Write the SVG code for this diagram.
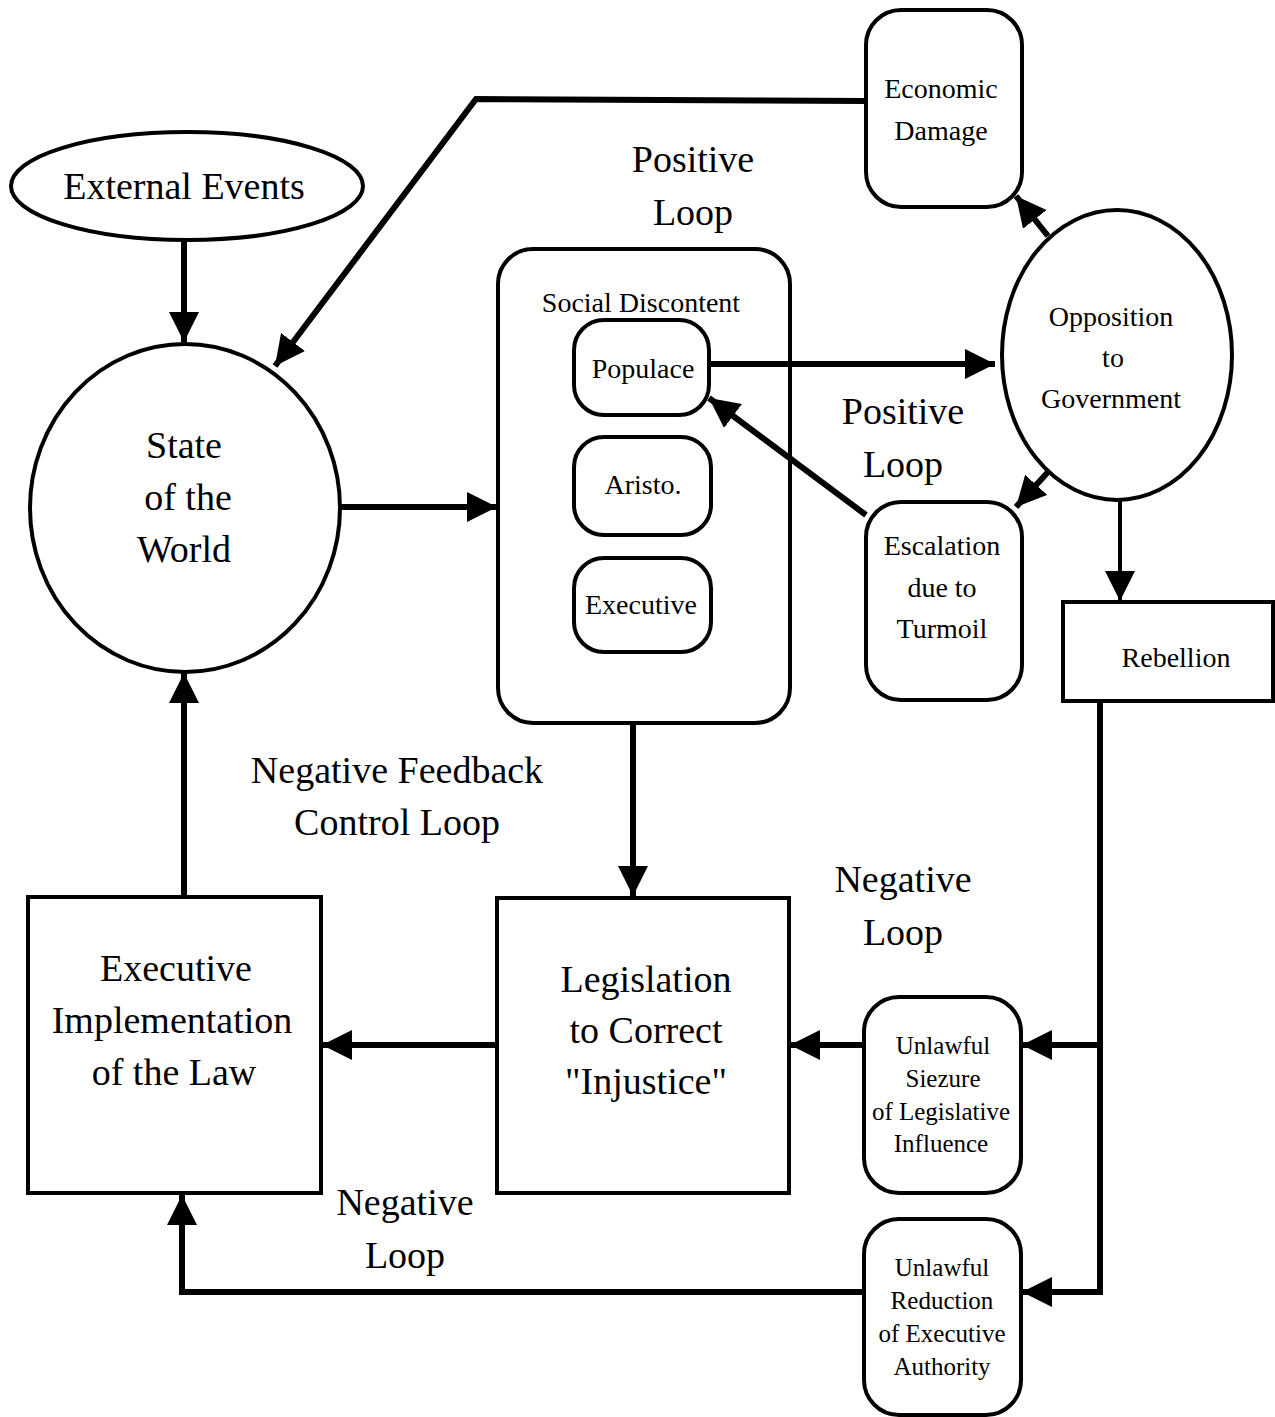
<svg xmlns="http://www.w3.org/2000/svg" width="1275" height="1417" viewBox="0 0 1275 1417">
<style>
.n{fill:#fff;stroke:#000;stroke-width:4}
.t{font-family:"Liberation Serif","Times New Roman",serif;fill:#000;text-anchor:middle}
.big{font-size:38px}
.sm{font-size:28px}
.c{fill:none;stroke:#000;stroke-width:6}
.thin{fill:none;stroke:#000;stroke-width:4}
</style>
<defs>
<marker id="ah" markerUnits="userSpaceOnUse" markerWidth="32" markerHeight="30" refX="30" refY="15" orient="auto">
<path d="M0,0 L30,15 L0,30 Z" fill="#000"/>
</marker>
</defs>
<rect width="1275" height="1417" fill="#fff"/>
<g id="external-events">
<ellipse class="n" cx="187" cy="186" rx="176" ry="54"/>
<text class="t big" x="184" y="199">External Events</text>
</g>
<g id="state-of-the-world">
<ellipse class="n" cx="185" cy="508" rx="155" ry="164"/>
<text class="t big" x="184" y="458">State</text>
<text class="t big" x="188" y="510">of the</text>
<text class="t big" x="184" y="562">World</text>
</g>
<g id="economic-damage">
<rect class="n" x="866" y="10" width="156" height="197" rx="35"/>
<text class="t sm" x="941" y="98">Economic</text>
<text class="t sm" x="941" y="140">Damage</text>
</g>
<g id="social-discontent">
<rect class="n" x="498" y="249" width="292" height="474" rx="35"/>
<text class="t sm" x="641" y="312">Social Discontent</text>
</g>
<g id="populace">
<rect class="n" x="574" y="320" width="135" height="95" rx="30"/>
<text class="t sm" x="643" y="378">Populace</text>
</g>
<g id="aristo">
<rect class="n" x="574" y="437" width="137" height="98" rx="30"/>
<text class="t sm" x="643" y="494">Aristo.</text>
</g>
<g id="executive">
<rect class="n" x="574" y="558" width="137" height="94" rx="30"/>
<text class="t sm" x="641" y="614">Executive</text>
</g>
<g id="opposition">
<ellipse class="n" cx="1117" cy="355" rx="115" ry="145"/>
<text class="t sm" x="1111" y="326">Opposition</text>
<text class="t sm" x="1113" y="367">to</text>
<text class="t sm" x="1111" y="408">Government</text>
</g>
<g id="escalation">
<rect class="n" x="866" y="502" width="156" height="198" rx="35"/>
<text class="t sm" x="942" y="555">Escalation</text>
<text class="t sm" x="942" y="597">due to</text>
<text class="t sm" x="942" y="638">Turmoil</text>
</g>
<g id="rebellion">
<rect class="n" x="1063" y="602" width="210" height="99"/>
<text class="t sm" x="1176" y="667">Rebellion</text>
</g>
<g id="legislation">
<rect class="n" x="497" y="898" width="292" height="295"/>
<text class="t big" x="646" y="992">Legislation</text>
<text class="t big" x="646" y="1043">to Correct</text>
<text class="t big" x="646" y="1094">"Injustice"</text>
</g>
<g id="executive-implementation">
<rect class="n" x="28" y="897" width="293" height="296"/>
<text class="t big" x="176" y="981">Executive</text>
<text class="t big" x="172" y="1033">Implementation</text>
<text class="t big" x="174" y="1085">of the Law</text>
</g>
<g id="unlawful-siezure">
<rect class="n" x="864" y="997" width="157" height="196" rx="35"/>
<text class="t" font-size="25" x="943" y="1054">Unlawful</text>
<text class="t" font-size="25" x="943" y="1087">Siezure</text>
<text class="t" font-size="25" x="941" y="1120">of Legislative</text>
<text class="t" font-size="25" x="941" y="1152">Influence</text>
</g>
<g id="unlawful-reduction">
<rect class="n" x="864" y="1219" width="157" height="196" rx="35"/>
<text class="t" font-size="25" x="942" y="1276">Unlawful</text>
<text class="t" font-size="25" x="942" y="1309">Reduction</text>
<text class="t" font-size="25" x="942" y="1342">of Executive</text>
<text class="t" font-size="25" x="942" y="1375">Authority</text>
</g>
<g id="connectors">
<line class="c" x1="184" y1="240" x2="184" y2="342" marker-end="url(#ah)"/>
<polyline class="c" stroke-width="7" points="866,101 476,99 275,366" marker-end="url(#ah)"/>
<line class="c" x1="340" y1="507" x2="497" y2="507" marker-end="url(#ah)"/>
<line class="c" x1="709" y1="364" x2="995" y2="364" marker-end="url(#ah)"/>
<line class="c" x1="1048" y1="236" x2="1016" y2="196" marker-end="url(#ah)"/>
<line class="c" x1="1048" y1="472" x2="1016" y2="507" marker-end="url(#ah)"/>
<line class="thin" x1="1120" y1="500" x2="1120" y2="601" marker-end="url(#ah)"/>
<line class="c" x1="866" y1="515" x2="709" y2="398" marker-end="url(#ah)"/>
<line class="c" x1="633" y1="723" x2="633" y2="896" marker-end="url(#ah)"/>
<line class="c" x1="497" y1="1045" x2="322" y2="1045" marker-end="url(#ah)"/>
<line class="c" x1="184" y1="895" x2="184" y2="673" marker-end="url(#ah)"/>
<line class="c" x1="864" y1="1045" x2="790" y2="1045" marker-end="url(#ah)"/>
<line class="c" x1="1100" y1="701" x2="1100" y2="1295"/>
<line class="c" x1="1100" y1="1045" x2="1022" y2="1045" marker-end="url(#ah)"/>
<line class="c" x1="1100" y1="1292" x2="1022" y2="1292" marker-end="url(#ah)"/>
<polyline class="c" points="864,1292 182,1292 182,1195" marker-end="url(#ah)"/>
</g>
<g id="labels">
<text class="t big" x="693" y="172">Positive</text>
<text class="t big" x="693" y="225">Loop</text>
<text class="t big" x="903" y="424">Positive</text>
<text class="t big" x="903" y="477">Loop</text>
<text class="t big" x="397" y="783">Negative Feedback</text>
<text class="t big" x="397" y="835">Control Loop</text>
<text class="t big" x="903" y="892">Negative</text>
<text class="t big" x="903" y="945">Loop</text>
<text class="t big" x="405" y="1215">Negative</text>
<text class="t big" x="405" y="1268">Loop</text>
</g>
</svg>
